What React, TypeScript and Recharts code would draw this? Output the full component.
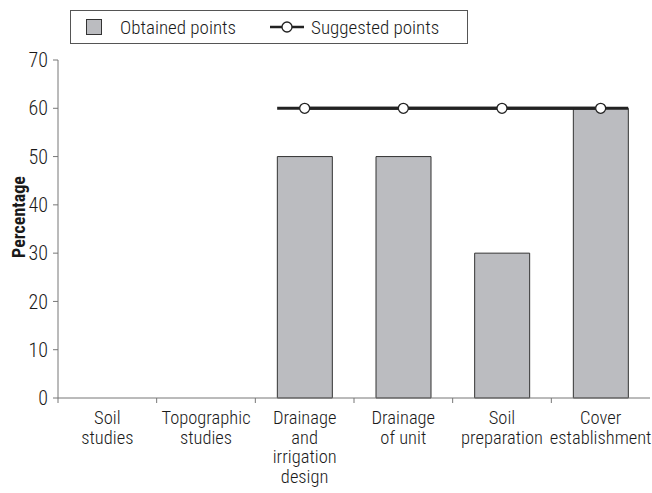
import { ComposedChart, Bar, Line, XAxis, YAxis, ReferenceLine } from "recharts";

const categories = [
  "Soil studies",
  "Topographic studies",
  "Drainage and irrigation design",
  "Drainage of unit",
  "Soil preparation",
  "Cover establishment",
];
const tickLines: string[][] = [
  ["Soil", "studies"],
  ["Topographic", "studies"],
  ["Drainage", "and", "irrigation", "design"],
  ["Drainage", "of unit"],
  ["Soil", "preparation"],
  ["Cover", "establishment"],
];
const obtained = [0, 0, 50, 50, 30, 60];
const suggested = [null, null, 60, 60, 60, 60];
const yTicks = [0, 10, 20, 30, 40, 50, 60, 70];

const data = categories.map((c, i) => ({ name: c, obtained: obtained[i], suggested: suggested[i] }));

const FONT = "'Roboto Condensed', 'Liberation Sans', sans-serif";
const W = 652;
const H = 493;
const LEFT = 58;
const RIGHT = 2;
const BAR = 55;
const band = (W - LEFT - RIGHT) / categories.length;

function CatTick(props: any) {
  const { x, y, index } = props;
  const lines = tickLines[index] || [];
  return (
    <g>
      <line x1={x - band / 2} x2={x - band / 2} y1={y - 8} y2={y - 3} stroke="#777" />
      <text x={x} y={y + 18} textAnchor="middle" fontFamily={FONT} fontSize={18.5} fontWeight={300} fill="#1a1a1a">
        {lines.map((l, i) => (
          <tspan key={i} x={x} dy={i === 0 ? 0 : 19.5}>
            {l}
          </tspan>
        ))}
      </text>
    </g>
  );
}

function ExtendedLine(props: any) {
  const { x1, x2, y1, y2 } = props;
  return <line x1={x1 - BAR / 2} x2={x2 + BAR / 2} y1={y1} y2={y2} stroke="#222" strokeWidth={3} />;
}

export default function App() {
  return (
    <div style={{ position: "relative", width: W, height: H, fontFamily: FONT }}>
      <style>{`body{margin:0}`}</style>
      <div
        style={{
          position: "absolute",
          left: 70,
          top: 10,
          width: 396,
          height: 32,
          border: "1px solid #555",
          display: "flex",
          alignItems: "center",
          fontSize: 19,
          fontWeight: 300,
          color: "#1a1a1a",
          zIndex: 2,
          background: "#fff",
        }}
      >
        <span style={{ display: "inline-block", width: 14, height: 14, background: "#bbbcc0", border: "1px solid #333", marginLeft: 15 }} />
        <span style={{ marginLeft: 18 }}>Obtained points</span>
        <svg width={34} height={14} style={{ marginLeft: 34 }}>
          <line x1={0} x2={34} y1={7} y2={7} stroke="#222" strokeWidth={2.5} />
          <circle cx={17} cy={7} r={5} fill="#fff" stroke="#222" strokeWidth={1.3} />
        </svg>
        <span style={{ marginLeft: 7 }}>Suggested points</span>
      </div>
      <ComposedChart width={W} height={H} data={data} margin={{ top: 60, right: RIGHT, bottom: 5, left: 0 }}>
        <XAxis
          dataKey="name"
          height={90}
          tickLine={false}
          interval={0}
          stroke="#777"
          tick={<CatTick />}
        />
        <YAxis
          domain={[0, 70]}
          ticks={yTicks}
          width={LEFT}
          stroke="#777"
          tickSize={5}
          tickMargin={5}
          tick={{ fill: "#1a1a1a", fontSize: 20, fontWeight: 300, fontFamily: FONT }}
          label={{
            value: "Percentage",
            angle: -90,
            position: "insideLeft",
            offset: 19,
            dy: -12,
            style: { fontWeight: "bold", fontSize: 18, fill: "#1a1a1a", fontFamily: FONT, textAnchor: "middle" },
          }}
        />
        <Bar dataKey="obtained" fill="#bbbcc0" stroke="#333" strokeWidth={1} barSize={BAR} isAnimationActive={false} />
        <ReferenceLine
          segment={[
            { x: categories[2], y: 60 },
            { x: categories[5], y: 60 },
          ]}
          shape={<ExtendedLine />}
        />
        <Line
          dataKey="suggested"
          stroke="#222"
          strokeWidth={3}
          dot={{ r: 5, fill: "#fff", stroke: "#222", strokeWidth: 1.3 }}
          isAnimationActive={false}
        />
      </ComposedChart>
    </div>
  );
}
